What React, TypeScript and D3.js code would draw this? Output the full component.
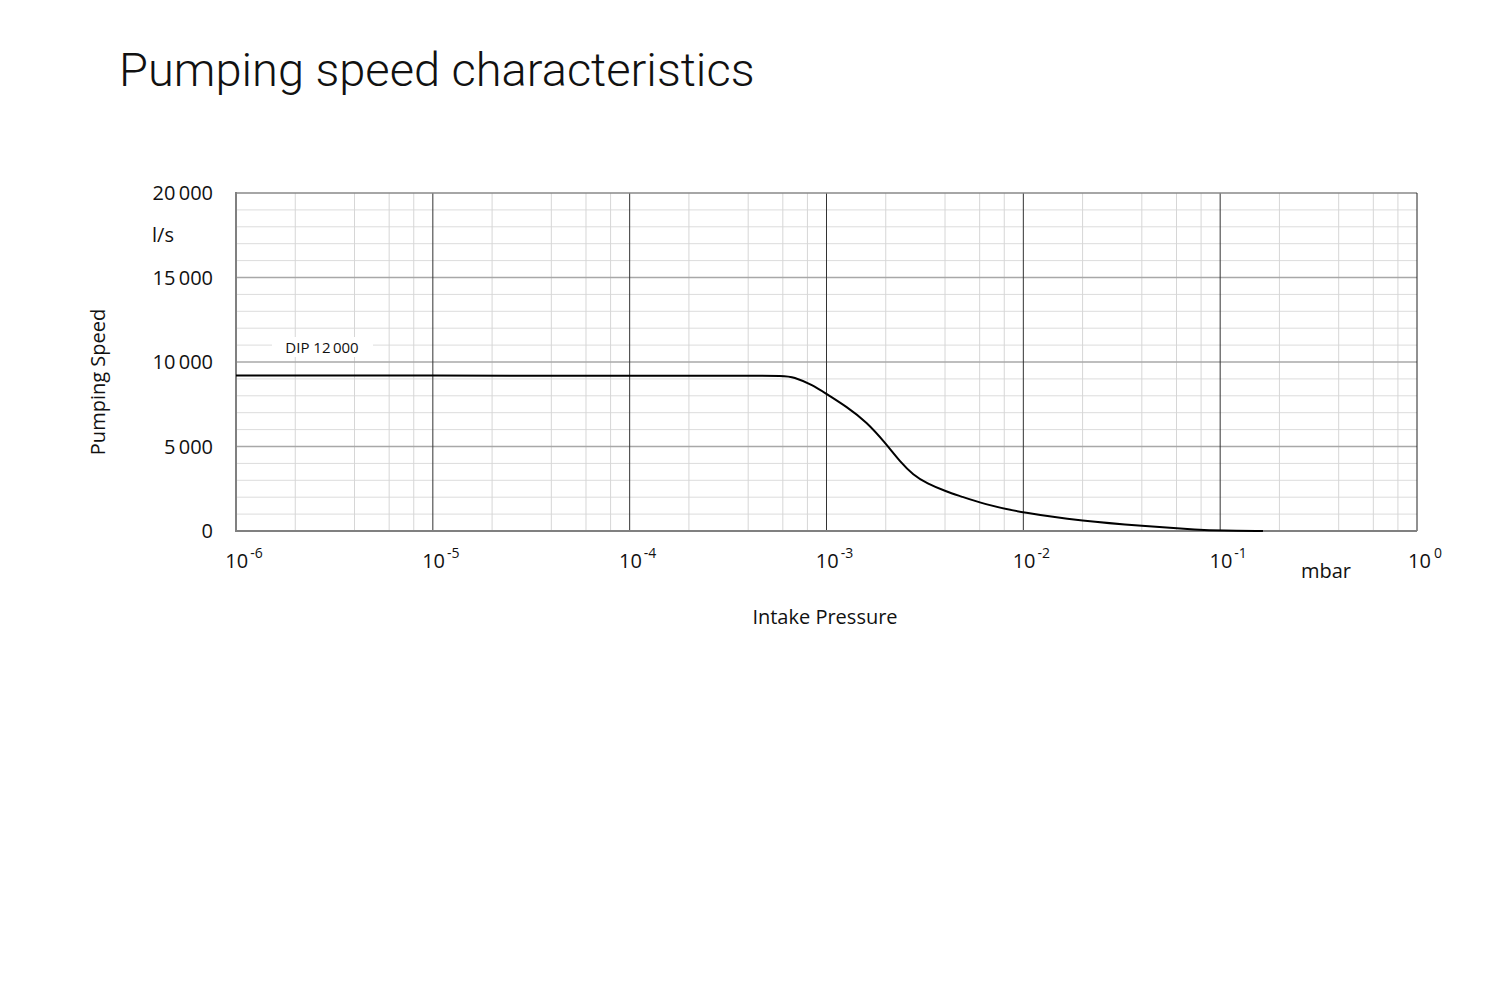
import React from "react";
import * as d3 from "d3";

const title = "Pumping speed characteristics";
const seriesName = "DIP 12\u2009000";
const pressure = [1e-6, 1e-5, 1e-4, 4e-4, 6.1e-4, 6.76e-4, 8.53e-4, 1e-3, 1.266e-3, 1.6e-3, 2e-3, 2.363e-3, 2.76e-3, 3.23e-3, 4.08e-3, 4.76e-3, 6.25e-3, 1e-2, 2e-2, 4e-2, 8e-2, 0.1, 0.165];
const speed = [9200, 9195, 9190, 9190, 9185, 9130, 8640, 8107, 7355, 6450, 5180, 4100, 3314, 2820, 2325, 2070, 1600, 1065, 590, 300, 60, 30, 0];
const xExponents = [-6, -5, -4, -3, -2, -1, 0];
const yTicks = [0, 5000, 10000, 15000, 20000];
const yTickLabels = ["0", "5\u2009000", "10\u2009000", "15\u2009000", "20\u2009000"];
const minorMultipliers = [2, 4, 6, 8];

const W = 1500, H = 1000;
const left = 236, right = 1417, top = 193, bottom = 531;
const fontTick = "'Open Sans', 'Noto Sans', sans-serif";

export default function App() {
  const x = d3.scaleLog().domain([1e-6, 1]).range([left, right]);
  const y = d3.scaleLinear().domain([0, 20000]).range([bottom, top]);
  const line = d3
    .line<number>()
    .x((_, i) => x(pressure[i]))
    .y((d) => y(d))
    .curve(d3.curveBasis);

  const minorX: number[] = [];
  xExponents.slice(0, -1).forEach((e) => {
    minorMultipliers.forEach((m) => minorX.push(m * Math.pow(10, e)));
  });
  const minorY = d3.range(1000, 20000, 1000).filter((v) => v % 5000 !== 0);

  return (
    <svg width={W} height={H} style={{ position: "absolute", left: 0, top: 0, background: "#fff" }}>
      <text x={119} y={86} fontFamily="Roboto, 'Liberation Sans', Arial, sans-serif" fontSize={47} fill="#111" style={{ fontWeight: 300 }}>
        {title}
      </text>

      {/* minor grid */}
      {minorY.map((v) => (
        <line key={"my" + v} x1={left} x2={right} y1={y(v)} y2={y(v)} stroke="#dcdcdc" strokeWidth={1} />
      ))}
      {minorX.map((v, i) => (
        <line key={"mx" + i} x1={x(v)} x2={x(v)} y1={top} y2={bottom} stroke="#d6d6d6" strokeWidth={1} />
      ))}
      {/* major horizontal */}
      {yTicks.slice(1, -1).map((v) => (
        <line key={"My" + v} x1={left} x2={right} y1={y(v)} y2={y(v)} stroke="#a8a8a8" strokeWidth={1.5} />
      ))}
      {/* major vertical */}
      {xExponents.slice(1, -1).map((e) => (
        <line key={"Mx" + e} x1={x(Math.pow(10, e))} x2={x(Math.pow(10, e))} y1={top} y2={bottom} stroke="#333" strokeWidth={1} />
      ))}

      {/* frame */}
      <line x1={left} x2={right} y1={top} y2={top} stroke="#888" strokeWidth={1.5} />
      <line x1={right} x2={right} y1={top} y2={bottom} stroke="#222" strokeWidth={1} />
      <line x1={left} x2={left} y1={top - 1} y2={bottom + 1} stroke="#808080" strokeWidth={2} />
      <line x1={left} x2={right} y1={bottom} y2={bottom} stroke="#808080" strokeWidth={2} />

      {/* series label */}
      <rect x={272} y={337} width={101} height={20} fill="#fff" />
      <text x={322} y={353} textAnchor="middle" fontFamily={fontTick} fontSize={15} fill="#111">
        {seriesName}
      </text>

      {/* curve */}
      <path d={line(speed) || ""} fill="none" stroke="#000" strokeWidth={2} />

      {/* y ticks */}
      {yTicks.map((v, i) => (
        <text key={"yt" + v} x={213} y={y(v) + 7} textAnchor="end" fontFamily={fontTick} fontSize={20} fill="#111">
          {yTickLabels[i]}
        </text>
      ))}
      <text x={152} y={242} fontFamily={fontTick} fontSize={20} fill="#111">l/s</text>
      <text transform="translate(105,382) rotate(-90)" textAnchor="middle" fontFamily={fontTick} fontSize={20} fill="#111">
        Pumping Speed
      </text>

      {/* x ticks */}
      {xExponents.map((e) => (
        <text key={"xt" + e} x={x(Math.pow(10, e)) + 8} y={568} textAnchor="middle" fontFamily={fontTick} fontSize={20} fill="#111">
          <tspan>10</tspan>
          <tspan dx={e === 0 ? 3 : 2} dy={-10} fontSize={14}>{e === 0 ? "0" : "-" + Math.abs(e)}</tspan>
        </text>
      ))}
      <text x={1326} y={578} textAnchor="middle" fontFamily={fontTick} fontSize={20} fill="#111">mbar</text>
      <text x={825} y={624} textAnchor="middle" fontFamily={fontTick} fontSize={20} fill="#111">Intake Pressure</text>
    </svg>
  );
}
